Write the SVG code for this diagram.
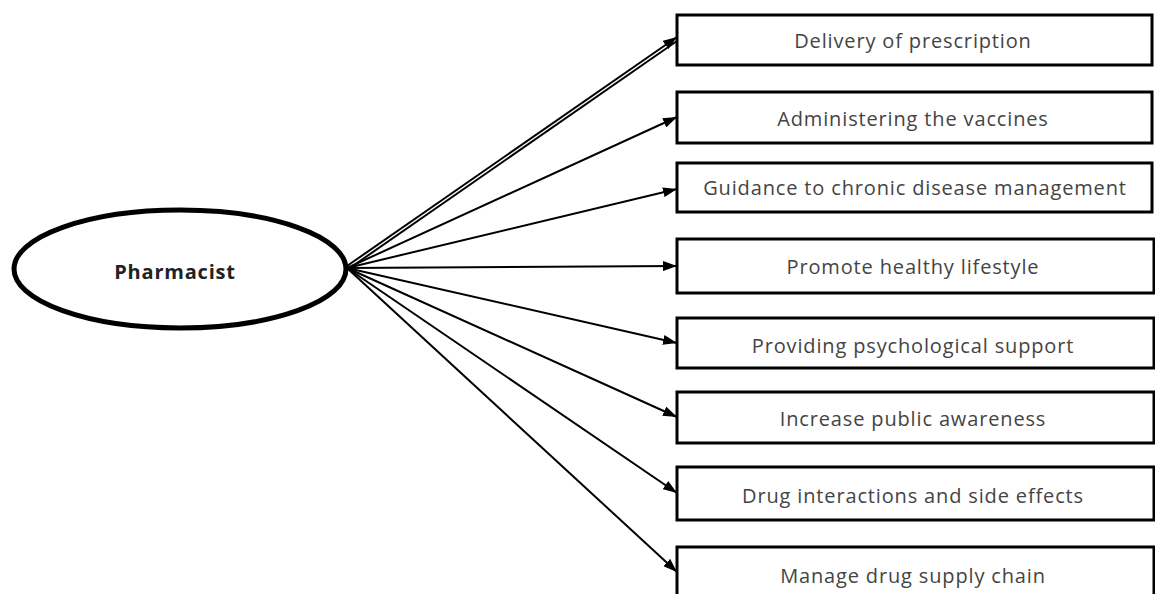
<svg xmlns="http://www.w3.org/2000/svg" width="1155" height="594" viewBox="0 0 1155 594">
<defs>
<marker id="ah" viewBox="0 0 14 10" refX="14" refY="5" markerWidth="14" markerHeight="10" markerUnits="userSpaceOnUse" orient="auto">
<path d="M0,0 L14,5 L0,10 Z" fill="#000"/>
</marker>
</defs>
<style>
.box{fill:#fff;stroke:#000;stroke-width:3}
.lbl{font-family:"Open Sans",sans-serif;font-size:20px;letter-spacing:0.85px;font-weight:400;fill:#444;text-anchor:middle}
.con{stroke:#000;stroke-width:2;fill:none}
</style>
<rect width="1155" height="594" fill="#fff"/>
<g id="pharmacist">
<ellipse cx="180" cy="269" rx="166" ry="59" fill="#fff" stroke="#000" stroke-width="5"/>
<text x="175" y="279" style="font-family:'Open Sans',sans-serif;font-size:20px;letter-spacing:0.8px;font-weight:bold;fill:#222;text-anchor:middle">Pharmacist</text>
</g>
<g id="n1"><rect class="box" x="677" y="15" width="475" height="50"/><text class="lbl" x="913" y="48">Delivery of prescription</text></g>
<g id="n2"><rect class="box" x="677" y="92" width="475" height="51"/><text class="lbl" x="913" y="126">Administering the vaccines</text></g>
<g id="n3"><rect class="box" x="677" y="163" width="475" height="49"/><text class="lbl" x="915" y="195">Guidance to chronic disease management</text></g>
<g id="n4"><rect class="box" x="677" y="239" width="477" height="54"/><text class="lbl" x="913" y="274">Promote healthy lifestyle</text></g>
<g id="n5"><rect class="box" x="677" y="318" width="477" height="50"/><text class="lbl" x="913" y="353">Providing psychological support</text></g>
<g id="n6"><rect class="box" x="677" y="392" width="477" height="51"/><text class="lbl" x="913" y="426">Increase public awareness</text></g>
<g id="n7"><rect class="box" x="677" y="467" width="477" height="53"/><text class="lbl" x="913" y="503">Drug interactions and side effects</text></g>
<g id="n8"><rect class="box" x="677" y="547" width="477" height="60"/><text class="lbl" x="913" y="583">Manage drug supply chain</text></g>
<g id="connectors">
<line class="con" x1="347" y1="266" x2="677" y2="37" marker-end="url(#ah)"/>
<line class="con" x1="347" y1="270" x2="677" y2="41"/>
<line class="con" x1="347" y1="268" x2="677" y2="117" marker-end="url(#ah)"/>
<line class="con" x1="347" y1="268" x2="677" y2="189" marker-end="url(#ah)"/>
<line class="con" x1="347" y1="268" x2="677" y2="266" marker-end="url(#ah)"/>
<line class="con" x1="347" y1="268" x2="677" y2="343" marker-end="url(#ah)"/>
<line class="con" x1="347" y1="268" x2="677" y2="417" marker-end="url(#ah)"/>
<line class="con" x1="347" y1="268" x2="677" y2="493" marker-end="url(#ah)"/>
<line class="con" x1="347" y1="268" x2="677" y2="572" marker-end="url(#ah)"/>
</g>
</svg>
